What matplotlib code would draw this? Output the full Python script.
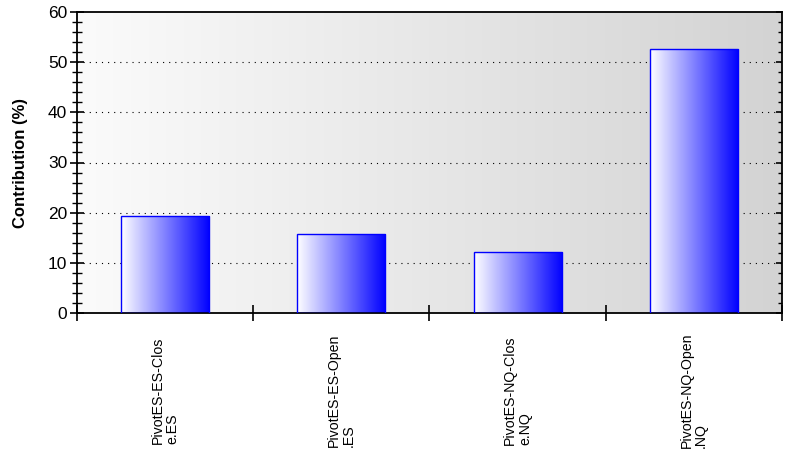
import numpy as np
import matplotlib
matplotlib.use("Agg")
import matplotlib.pyplot as plt
import matplotlib.transforms as mtransforms
from matplotlib.colors import LinearSegmentedColormap
from matplotlib.ticker import MultipleLocator

categories = ["PivotES-ES-Clos\ne.ES", "PivotES-ES-Open\n.ES", "PivotES-NQ-Clos\ne.NQ", "PivotES-NQ-Open\n.NQ"]
values = [19.3, 15.8, 12.1, 52.7]
yticks = [0, 10, 20, 30, 40, 50, 60]

plt.rcParams['font.family'] = ['Liberation Sans', 'DejaVu Sans']

fig = plt.figure(figsize=(8.12, 4.62), dpi=100)
ax = fig.add_axes([77/812, 1-313/462, (782-77)/812, (313-12)/462])

n = len(categories)
x = np.arange(n)

# background gradient
bg = LinearSegmentedColormap.from_list("bg", ["#fbfbfb", "#d3d3d3"])
grad = np.linspace(0, 1, 256).reshape(1, -1)
ax.imshow(grad, cmap=bg, aspect='auto', extent=[0, 1, 0, 1], transform=ax.transAxes, zorder=0)

# grid
for yv in yticks[1:-1]:
    ax.axhline(yv, color='black', linestyle=(0, (1, 4.5)), linewidth=0.8, zorder=1)

# bars
barcm = LinearSegmentedColormap.from_list("bar", ["#ffffff", "#0000ff"])
bars = ax.bar(x, values, width=0.5, facecolor='none', edgecolor='#0000ff', linewidth=1.0, zorder=3)
for b in bars:
    x0, y0 = b.get_x(), b.get_y()
    w, h = b.get_width(), b.get_height()
    im = ax.imshow(grad, cmap=barcm, aspect='auto', extent=[x0, x0+w, y0, y0+h], zorder=2)
    im.set_clip_path(b)

ax.set_xlim(-0.5, n-0.5)
ax.set_ylim(0, 60)

# axes styling
for s in ax.spines.values():
    s.set_linewidth(1.3)
    s.set_color('black')
ax.set_yticks(yticks)
ax.yaxis.set_minor_locator(MultipleLocator(2))
ax.tick_params(axis='y', which='major', direction='inout', length=10, width=1.2, labelsize=12.5, pad=2)
ax.tick_params(axis='y', which='minor', direction='inout', length=7, width=1.0)
ax.set_xticks(np.arange(n+1) - 0.5)
ax.set_xticklabels([])
ax.tick_params(axis='x', which='major', direction='inout', length=11, width=1.2)

# right axis: inward ticks only
ax2 = ax.twinx()
ax2.set_ylim(0, 60)
ax2.set_yticks(yticks)
ax2.yaxis.set_minor_locator(MultipleLocator(2))
ax2.set_yticklabels([])
ax2.tick_params(axis='y', which='major', direction='in', length=4, width=1.2)
ax2.tick_params(axis='y', which='minor', direction='in', length=3, width=1.0)
for s in ax2.spines.values():
    s.set_visible(False)

ax.set_ylabel("Contribution (%)", fontsize=12, fontweight='bold', labelpad=14)

# category labels
trans = mtransforms.blended_transform_factory(ax.transData, fig.transFigure)
for xi, lab in zip(x, categories):
    ax.text(xi, 1 - 390/462, lab, transform=trans, rotation=90, ha='center', va='center',
            multialignment='left', fontsize=10.2, linespacing=1.05, clip_on=False)

fig.savefig("out.png", dpi=100)
